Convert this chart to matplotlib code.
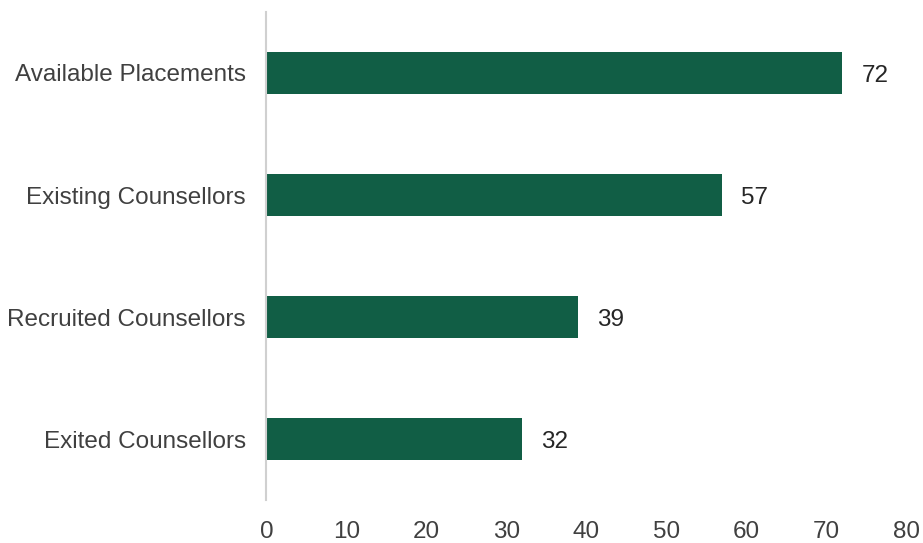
import matplotlib.pyplot as plt

plt.rcParams["font.family"] = ["Liberation Sans", "DejaVu Sans"]

categories = [
    "Exited Counsellors",
    "Recruited Counsellors",
    "Existing Counsellors",
    "Available Placements",
]
counts = [32, 39, 57, 72]
x_ticks = [0, 10, 20, 30, 40, 50, 60, 70, 80]

BAR_COLOR = "#115E45"
FONT_SIZE = 17.5

fig = plt.figure(figsize=(9.23, 5.43), dpi=100)
ax = fig.add_axes([0.2887, 0.079, 0.6934, 0.899])

positions = range(len(categories))
bars = ax.barh(positions, counts, height=0.35, color=BAR_COLOR)

for rect, value in zip(bars, counts):
    ax.annotate(
        f"{value}",
        xy=(rect.get_width(), rect.get_y() + rect.get_height() / 2),
        xytext=(19, -3),
        textcoords="offset pixels",
        va="center",
        ha="left",
        fontsize=FONT_SIZE,
        color="#262626",
    )

ax.set_yticks(list(positions))
ax.set_yticklabels(categories, fontsize=FONT_SIZE, color="#404040")
ax.set_xticks(x_ticks)
ax.set_xticklabels([str(t) for t in x_ticks], fontsize=FONT_SIZE, color="#404040")
ax.set_xlim(0, 80)
ax.set_ylim(-0.5, 3.5)

for side in ["top", "right", "bottom"]:
    ax.spines[side].set_visible(False)
ax.spines["left"].set_color("#D0D0D0")
ax.spines["left"].set_linewidth(1.5)
ax.tick_params(axis="both", length=0)
ax.tick_params(axis="y", pad=15)
ax.tick_params(axis="x", pad=15)

fig.savefig("out.png", dpi=100)
